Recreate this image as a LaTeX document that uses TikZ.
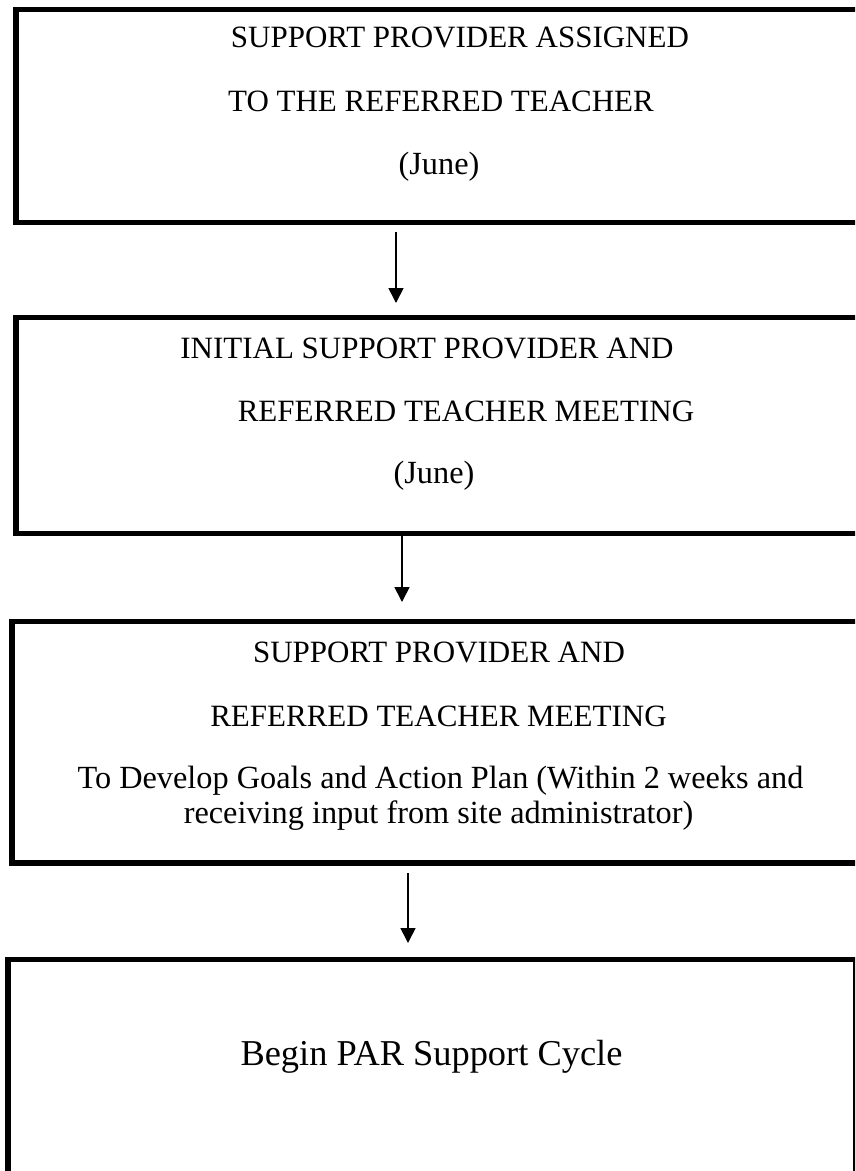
\documentclass[tikz,border=0pt]{standalone}
\usepackage{fontspec}
\setmainfont{Liberation Serif}
\usetikzlibrary{arrows.meta}

\begin{document}
\begin{tikzpicture}[x=1pt, y=-1pt,
  box/.style={draw, line width=5.5pt, outer sep=0pt, inner sep=0pt, anchor=north west},
  caps/.style={anchor=base, inner sep=0pt, font=\fontsize{31}{37}\selectfont},
  mixed/.style={anchor=base, inner sep=0pt, font=\fontsize{32.3}{38}\selectfont},
  flow/.style={-{Triangle[length=15pt,width=15pt]}, line width=1.7pt}]
\clip (0,0) rectangle (855,1171);

% Boxes
\node[box, minimum width=854pt, minimum height=212.8pt] (assigned) at (16,9.5) {};
\node[box, minimum width=854pt, minimum height=216pt] (initial) at (16,317.5) {};
\node[box, minimum width=858pt, minimum height=241.7pt] (develop) at (12,621.3) {};
\node[box, minimum width=848pt, minimum height=230pt] (cycle) at (8,959.3) {};

% Box texts
\node[caps] (assigned1) at (460,47) {SUPPORT PROVIDER ASSIGNED};
\node[caps] (assigned2) at (441,111) {TO THE REFERRED TEACHER};
\node[mixed] (assigned3) at (439,174) {(June)};

\node[caps] (initial1) at (427,358) {INITIAL SUPPORT PROVIDER AND};
\node[caps] (initial2) at (466,421) {REFERRED TEACHER MEETING};
\node[mixed] (initial3) at (434,483) {(June)};

\node[caps] (develop1) at (439,662) {SUPPORT PROVIDER AND};
\node[caps] (develop2) at (438.5,726) {REFERRED TEACHER MEETING};
\node[mixed] (develop3) at (440.5,788) {To Develop Goals and Action Plan (Within 2 weeks and};
\node[mixed] (develop4) at (438.5,823) {receiving input from site administrator)};

\node[anchor=base, inner sep=0pt, font=\fontsize{36.4}{44}\selectfont] (cycle1) at (431.5,1065) {Begin PAR Support Cycle};

% Arrows
\draw[flow, shorten <=9.7pt, shorten >=14.5pt] ([xshift=-47pt]assigned.south) -- ([xshift=-47pt]initial.north);
\draw[flow, shorten <=2.5pt, shorten >=19.3pt] ([xshift=-41pt]initial.south) -- ([xshift=-39pt]develop.north);
\draw[flow, shorten <=10pt, shorten >=16.3pt] ([xshift=-33pt]develop.south) -- ([xshift=-24pt]cycle.north);
\end{tikzpicture}
\end{document}
